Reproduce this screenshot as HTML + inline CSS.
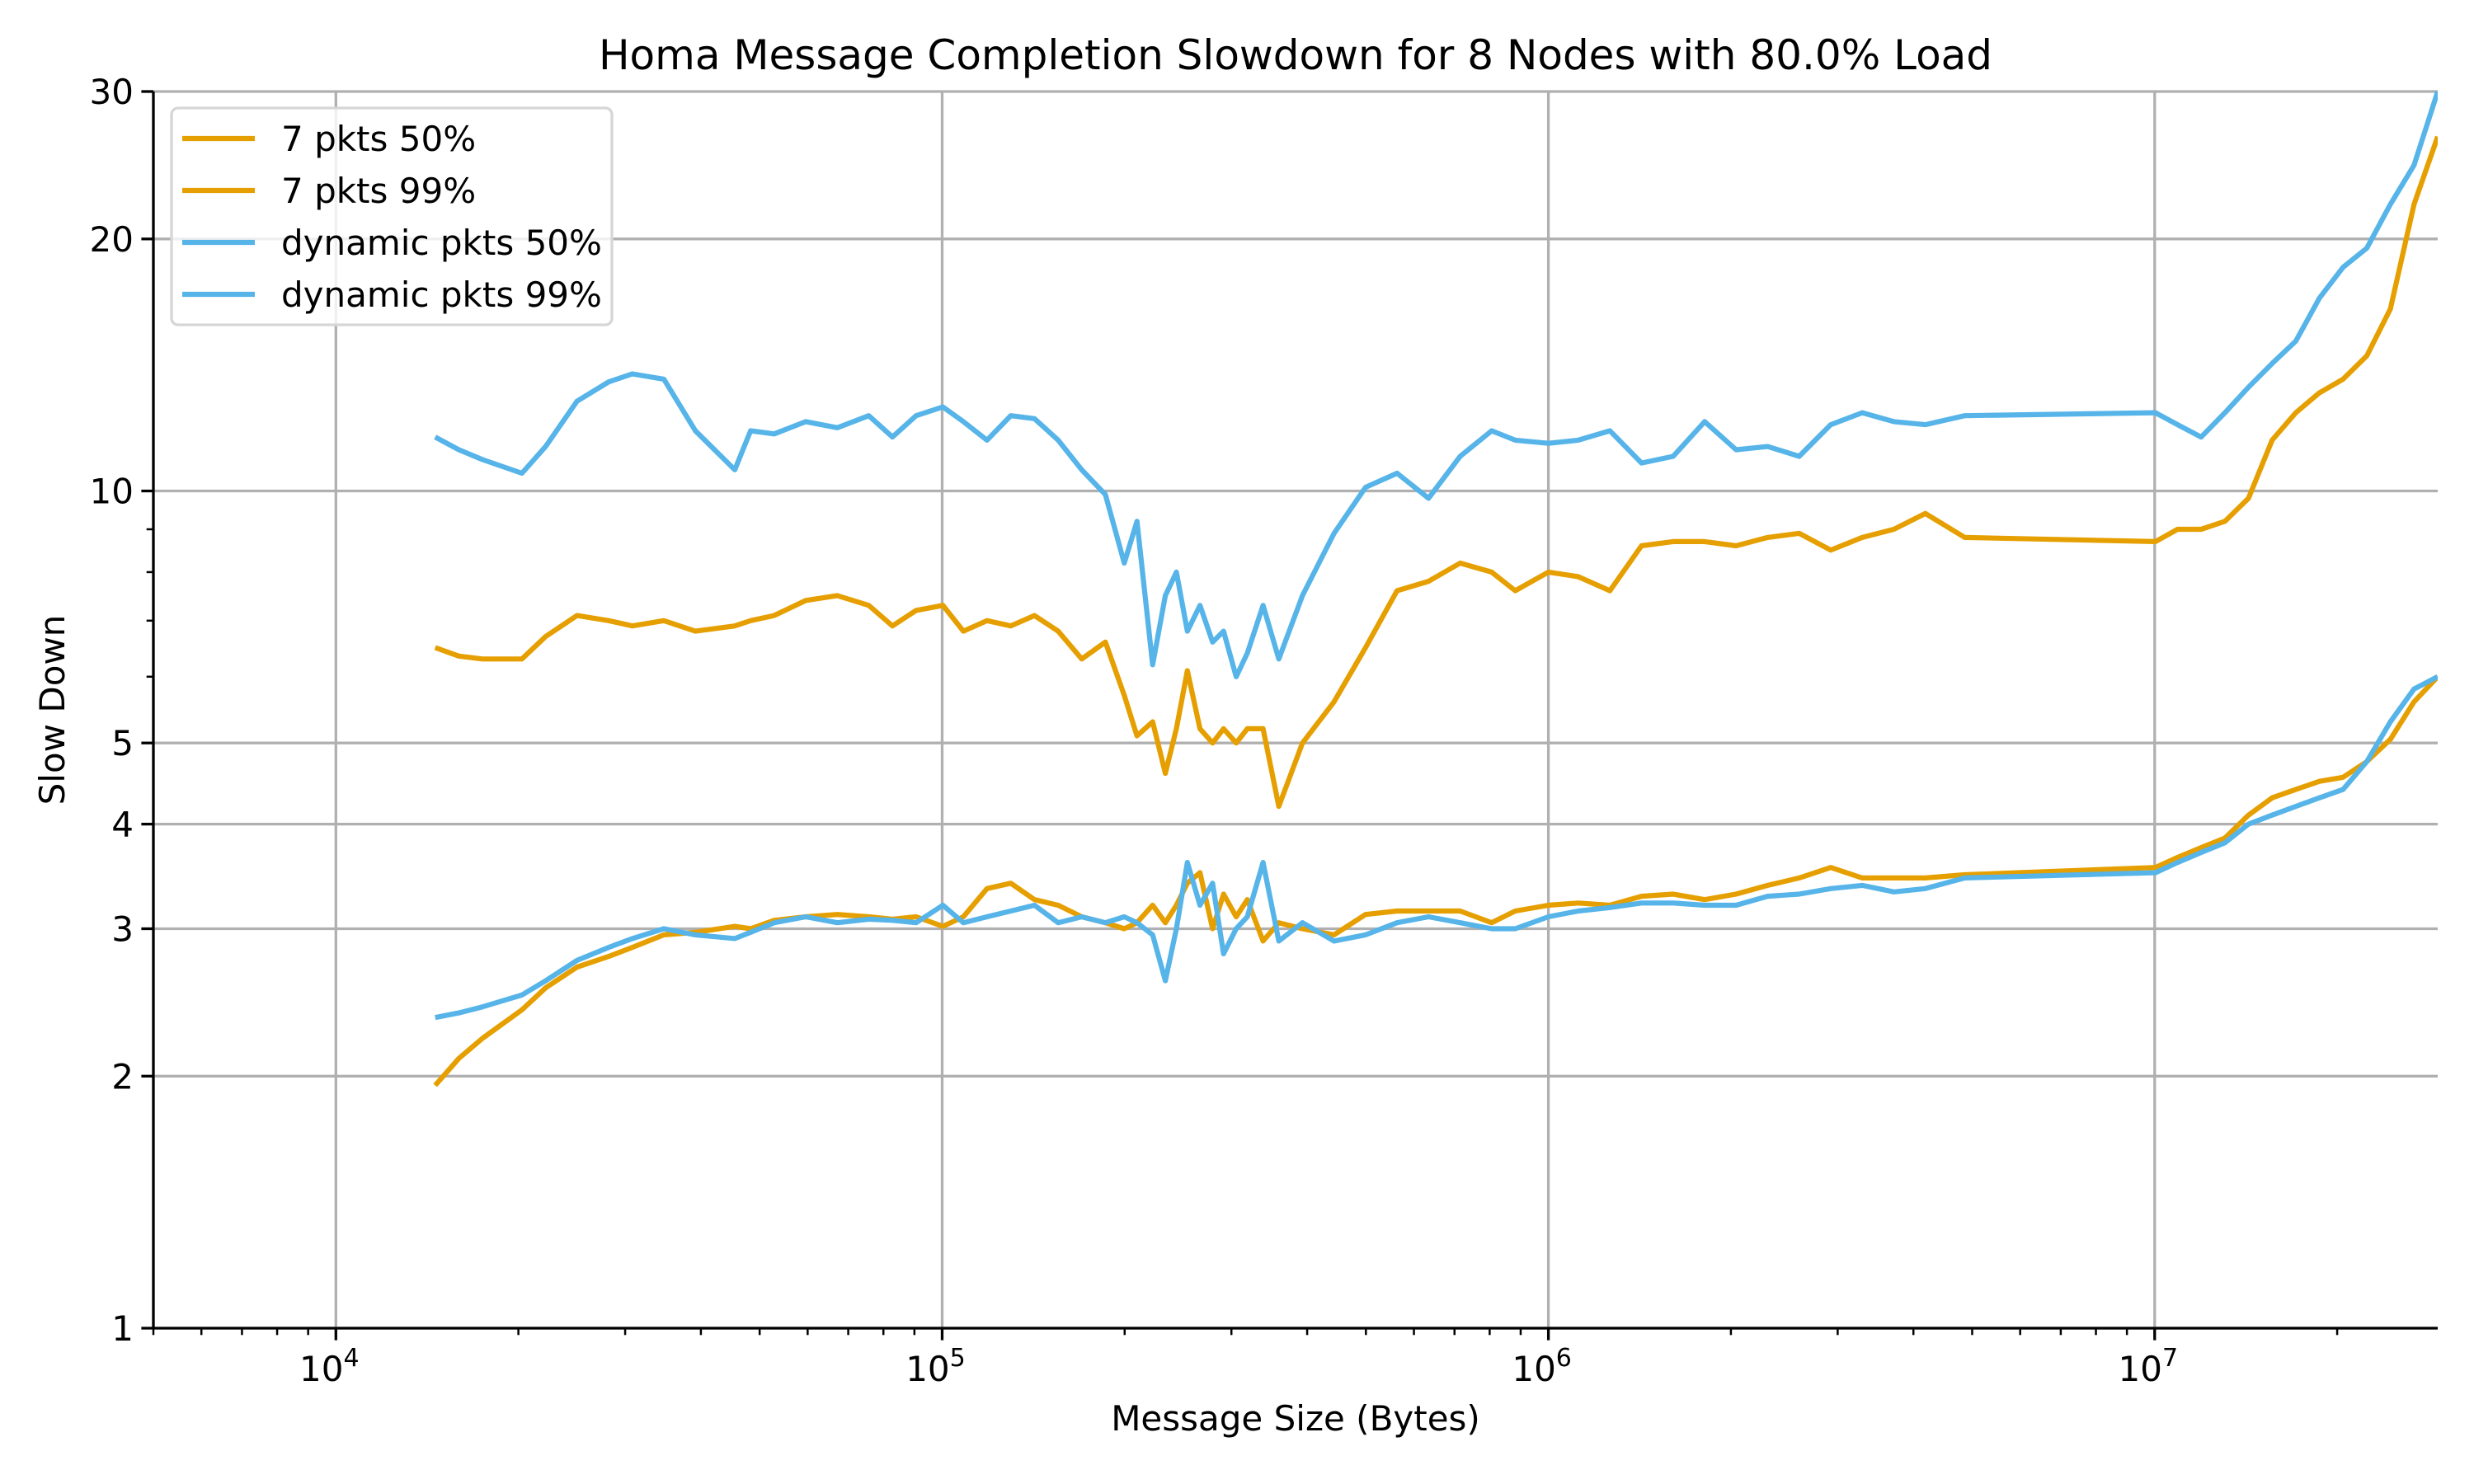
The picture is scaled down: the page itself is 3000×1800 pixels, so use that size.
<!DOCTYPE html>
<html><head><meta charset="utf-8"><style>
html,body{margin:0;padding:0;background:#fff;}
svg{display:block;font-family:"DejaVu Sans","Liberation Sans",sans-serif;}
</style></head><body>
<svg id="chart" width="3000" height="1800" viewBox="0 0 3000 1800" xmlns="http://www.w3.org/2000/svg">
<rect width="3000" height="1800" fill="#fff"/>
<g id="grid"></g>
<g id="series"></g>
<g id="axes"></g>
<text x="1571" y="84" font-size="50" text-anchor="middle">Homa Message Completion Slowdown for 8 Nodes with 80.0% Load</text>
<text x="1571" y="1735" font-size="42" text-anchor="middle">Message Size (Bytes)</text>
<text x="0" y="0" font-size="42" text-anchor="middle" transform="translate(78,861) rotate(-90)">Slow Down</text>
<g id="legend"></g>
</svg>
<script>
const xs = [14580,15950,17460,20270,22180,24990,28180,30830,34750,39170,45500,48310,52840,59570,67140,75690,82800,90590,100300,108400,118600,129800,142000,155400,169900,185900,199700,209600,222400,233400,243400,253800,266200,279300,291200,305500,318700,338300,359200,392900,443000,499300,562800,634400,715100,806100,881700,1000000,1120000,1263000,1424000,1606000,1810000,2040000,2300000,2592000,2922000,3294000,3713000,4185000,4861000,10030000,10910000,11930000,13060000,14280000,15620000,17090000,18700000,20450000,22380000,24480000,26780000,29300000];
const sevenP50 = [1.95,2.1,2.22,2.4,2.55,2.7,2.78,2.85,2.95,2.97,3.02,3.0,3.07,3.1,3.12,3.1,3.08,3.1,3.02,3.1,3.35,3.4,3.25,3.2,3.1,3.05,3.0,3.05,3.2,3.05,3.2,3.4,3.5,3.0,3.3,3.1,3.25,2.9,3.05,3.0,2.95,3.12,3.15,3.15,3.15,3.05,3.15,3.2,3.22,3.2,3.28,3.3,3.25,3.3,3.38,3.45,3.55,3.45,3.45,3.45,3.48,3.55,3.65,3.75,3.85,4.1,4.3,4.4,4.5,4.55,4.75,5.05,5.6,6.0];
const sevenP99 = [6.5,6.35,6.3,6.3,6.7,7.1,7.0,6.9,7.0,6.8,6.9,7.0,7.1,7.4,7.5,7.3,6.9,7.2,7.3,6.8,7.0,6.9,7.1,6.8,6.3,6.6,5.7,5.1,5.3,4.6,5.2,6.1,5.2,5.0,5.2,5.0,5.2,5.2,4.2,5.0,5.6,6.5,7.6,7.8,8.2,8.0,7.6,8.0,7.9,7.6,8.6,8.7,8.7,8.6,8.8,8.9,8.5,8.8,9.0,9.4,8.8,8.7,9.0,9.0,9.2,9.8,11.5,12.4,13.1,13.6,14.5,16.5,22,26.5];
const dynP50 = [2.35,2.38,2.42,2.5,2.6,2.75,2.85,2.92,3.0,2.95,2.92,2.97,3.05,3.1,3.05,3.08,3.07,3.05,3.2,3.05,3.1,3.15,3.2,3.05,3.1,3.05,3.1,3.05,2.95,2.6,3.0,3.6,3.2,3.4,2.8,3.0,3.1,3.6,2.9,3.05,2.9,2.95,3.05,3.1,3.05,3.0,3.0,3.1,3.15,3.18,3.22,3.22,3.2,3.2,3.28,3.3,3.35,3.38,3.32,3.35,3.45,3.5,3.6,3.7,3.8,4.0,4.1,4.2,4.3,4.4,4.75,5.3,5.8,6.0];
const dynP99 = [11.6,11.2,10.9,10.5,11.3,12.8,13.5,13.8,13.6,11.8,10.6,11.8,11.7,12.1,11.9,12.3,11.6,12.3,12.6,12.1,11.5,12.3,12.2,11.5,10.6,9.9,8.2,9.2,6.2,7.5,8.0,6.8,7.3,6.6,6.8,6.0,6.4,7.3,6.3,7.5,8.9,10.1,10.5,9.8,11.0,11.8,11.5,11.4,11.5,11.8,10.8,11.0,12.1,11.2,11.3,11.0,12.0,12.4,12.1,12.0,12.3,12.4,12.0,11.6,12.4,13.3,14.2,15.1,17.0,18.5,19.5,22.0,24.5,30];
const seriesNames = ["7 pkts 50%","7 pkts 99%","dynamic pkts 50%","dynamic pkts 99%"];
const yTickLabels = ["1","2","3","4","5","10","20","30"];
const yTickVals = [1,2,3,4,5,10,20,30];
const xTickExp = [4,5,6,7];

const NS="http://www.w3.org/2000/svg";
const L=186,R=2956,T=111,B=1611;
const XMIN=Math.log10(5000),XMAX=Math.log10(29300000);
const YMIN=0,YMAX=Math.log10(30);
function xS(v){return L+(Math.log10(v)-XMIN)/(XMAX-XMIN)*(R-L);}
function yS(v){return B-(Math.log10(v)-YMIN)/(YMAX-YMIN)*(B-T);}
function mk(tag,attrs,parent){const e=document.createElementNS(NS,tag);for(const k in attrs)e.setAttribute(k,attrs[k]);parent.appendChild(e);return e;}
const grid=document.getElementById('grid'),axes=document.getElementById('axes'),ser=document.getElementById('series'),leg=document.getElementById('legend');

xTickExp.forEach(e=>{const x=xS(Math.pow(10,e));
 const g=mk('line',{x1:x,x2:x,y1:T,y2:B,stroke:'#b0b0b0','stroke-width':3.3},grid);
 
 });
yTickVals.forEach(v=>{const y=yS(v);
 const g=mk('line',{x1:L,x2:R,y1:y,y2:y,stroke:'#b0b0b0','stroke-width':3.3},grid);
 
 });

const colors=['#e69f00','#e69f00','#56b4e9','#56b4e9'];
const data=[sevenP50,sevenP99,dynP50,dynP99];
const names=['line-7pkts-50','line-7pkts-99','line-dynamic-50','line-dynamic-99'];
data.forEach((arr,i)=>{
 const d=arr.map((v,j)=>(j?'L':'M')+xS(xs[j]).toFixed(1)+','+yS(v).toFixed(1)).join(' ');
 const p=mk('path',{d:d,fill:'none',stroke:colors[i],'stroke-width':6.2,'stroke-linejoin':'round','stroke-linecap':'butt'},ser);
 
 
});
const cp=mk('clipPath',{id:'clip'},document.getElementById('chart'));
mk('rect',{x:L,y:T-3,width:R-L,height:B-T+3},cp);
ser.setAttribute('clip-path','url(#clip)');

// spines
const sl=mk('line',{x1:L,x2:L,y1:T,y2:B+1.5,stroke:'#000','stroke-width':3.3},axes);


const sb=mk('line',{x1:L-1.5,x2:R,y1:B,y2:B,stroke:'#000','stroke-width':3.3},axes);



// y ticks
yTickVals.forEach((v,i)=>{const y=yS(v);
 mk('line',{x1:L-14.6,x2:L,y1:y,y2:y,stroke:'#000','stroke-width':3.3},axes);
 const t=mk('text',{x:L-24,y:y+15,'font-size':42,'text-anchor':'end'},axes);
 t.textContent=yTickLabels[i];
 
 });
[6,7,8,9].forEach(v=>{const y=yS(v);mk('line',{x1:L-8.3,x2:L,y1:y,y2:y,stroke:'#000','stroke-width':2.5},axes);});
// x ticks
xTickExp.forEach(e=>{const x=xS(Math.pow(10,e));
 mk('line',{x1:x,x2:x,y1:B,y2:B+14.6,stroke:'#000','stroke-width':3.3},axes);
 const t=mk('text',{x:x-8,y:B+64,'font-size':42,'text-anchor':'middle'},axes);
 
 
 t.textContent='10';
 const s=mk('tspan',{dy:-18,'font-size':30},t);s.textContent=String(e);});
for(let e=3;e<=7;e++){for(let m=2;m<=9;m++){const v=m*Math.pow(10,e);
 if(v<5000||v>29300000)continue;const x=xS(v);
 mk('line',{x1:x,x2:x,y1:B,y2:B+8.3,stroke:'#000','stroke-width':2.5},axes);}}

// legend
const lb=mk('rect',{x:208,y:131,width:534,height:263,rx:8,fill:'#fff','fill-opacity':0.8,stroke:'#d6d6d6','stroke-width':3.3},leg);


seriesNames.forEach((n,i)=>{const y=168+i*63;
 const g=mk('g',{},leg);
 
 
 mk('line',{x1:221,x2:309,y1:y,y2:y,stroke:colors[i],'stroke-width':6.2},g);
 const t=mk('text',{x:341,y:y+15,'font-size':42},g);t.textContent=n;});
</script>
</body></html>
